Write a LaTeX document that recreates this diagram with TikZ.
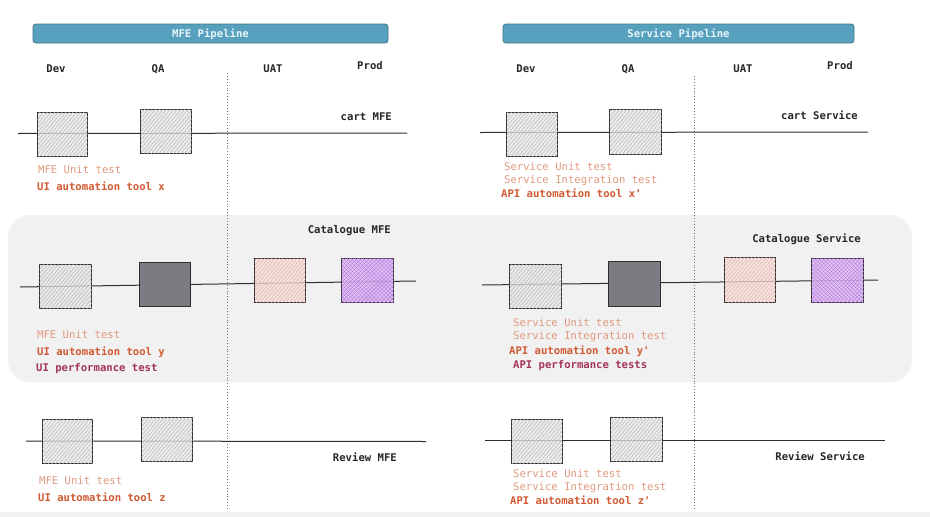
\documentclass[tikz,border=0pt]{standalone}
\usepackage{fontspec}
\setmonofont{DejaVu Sans Mono}
\usetikzlibrary{patterns.meta}
\definecolor{bannerfill}{HTML}{58A1BE}
\definecolor{bannerdraw}{HTML}{3E7488}
\definecolor{bannertext}{HTML}{E6F5FB}
\definecolor{salmon}{HTML}{E0997F}
\definecolor{orangered}{HTML}{D05A32}
\definecolor{crimson}{HTML}{A3345A}
\definecolor{bandfill}{HTML}{F1F1F1}
\definecolor{boxline}{HTML}{2E2E2E}
\definecolor{lightfill}{HTML}{E8E8E8}
\definecolor{lighthatch}{HTML}{B4B4B4}
\definecolor{darkfill}{HTML}{7A7C82}
\definecolor{pinkfill}{HTML}{F6DEDA}
\definecolor{pinkhatch}{HTML}{E6B0A8}
\definecolor{purplefill}{HTML}{DFBDF3}
\definecolor{purplehatch}{HTML}{B47BE0}
\tikzset{
  txt/.style={inner sep=0pt, anchor=base west, font=\ttfamily\fontsize{10.6}{12}\selectfont},
  lbl/.style={txt, anchor=base east, font=\ttfamily\bfseries\fontsize{10.6}{12}\selectfont, text=black!85},
  hdr/.style={inner sep=0pt, anchor=base, font=\ttfamily\bfseries\fontsize{10.6}{12}\selectfont, text=black!85},
  unittxt/.style={txt, text=salmon},
  autotxt/.style={txt, text=orangered, font=\ttfamily\bfseries\fontsize{10.6}{12}\selectfont},
  perftxt/.style={txt, text=crimson, font=\ttfamily\bfseries\fontsize{10.6}{12}\selectfont},
  banner/.style={draw=bannerdraw, line width=0.8pt, fill=bannerfill, rounded corners=3pt},
  bannertxt/.style={inner sep=0pt, text=bannertext, font=\ttfamily\bfseries\fontsize{10.6}{12}\selectfont},
  track/.style={draw=boxline, line width=1pt},
  sep/.style={draw=black!55, line width=0.9pt, dotted},
  envbox/.style={draw=boxline, line width=1.1pt, inner sep=0pt, anchor=north west},
  graybox/.style={envbox, fill=lightfill, fill opacity=0.75,
     postaction={pattern={Lines[angle=50,distance=2.8pt,line width=0.5pt]}, pattern color=lighthatch}},
  darkbox/.style={envbox, fill=darkfill},
  pinkbox/.style={envbox, fill=pinkfill, fill opacity=0.75,
     postaction={pattern={Lines[angle=50,distance=2.8pt,line width=0.5pt]}, pattern color=pinkhatch}},
  purplebox/.style={envbox, fill=purplefill, fill opacity=0.85,
     postaction={pattern={Lines[angle=45,distance=2.8pt,line width=0.45pt]}, pattern color=purplehatch},
     postaction={pattern={Lines[angle=-45,distance=2.8pt,line width=0.45pt]}, pattern color=purplehatch}},
}
\begin{document}
\begin{tikzpicture}[x=1pt,y=-1pt]
\useasboundingbox (0,0) rectangle (930,517);
\fill[white] (0,0) rectangle (930,517);
\fill[black!5] (0,512) rectangle (930,517);

% highlighted band
\fill[bandfill, rounded corners=22pt] (8,215) rectangle (912,382);

% banners
\draw[banner] (33,24) rectangle (388,43);
\node[bannertxt] (mfeTitle) at (210.5,34) {MFE Pipeline};
\draw[banner] (503,24) rectangle (854,43);
\node[bannertxt] (svcTitle) at (678.5,34) {Service Pipeline};

% stage headers
\node[hdr] (lDev) at (56,72) {Dev};
\node[hdr] (lQA) at (158,72) {QA};
\node[hdr] (lUAT) at (273,72) {UAT};
\node[hdr] (lProd) at (370,69.5) {Prod};
\node[hdr] (rDev) at (526,72) {Dev};
\node[hdr] (rQA) at (628,72) {QA};
\node[hdr] (rUAT) at (743,72) {UAT};
\node[hdr] (rProd) at (840,69.5) {Prod};

% dotted separators
\coordinate (lsepT) at (227.5,73);
\coordinate (lsepB) at (227.5,510);
\coordinate (rsepT) at (694,76);
\coordinate (rsepB) at (694,510);
\draw[sep] (lsepT) -- (lsepB);
\draw[sep] (rsepT) -- (rsepB);

% ---------- tracks ----------
\coordinate (t1lA) at (18,133.5);  \coordinate (t1lB) at (407,133);
\coordinate (t1rA) at (480,132.5); \coordinate (t1rB) at (868,132);
\coordinate (t2lA) at (20,287);    \coordinate (t2lB) at (416,281);
\coordinate (t2rA) at (482,285);   \coordinate (t2rB) at (878,280);
\coordinate (t3lA) at (26,441);    \coordinate (t3lB) at (426,441.5);
\coordinate (t3rA) at (485,440);   \coordinate (t3rB) at (885,440);
\draw[track] (t1lA) -- (t1lB);
\draw[track] (t1rA) -- (t1rB);
\draw[track] (t2lA) -- (t2lB);
\draw[track] (t2rA) -- (t2rB);
\draw[track] (t3lA) -- (t3lB);
\draw[track] (t3rA) -- (t3rB);

% ---------- row 1: cart ----------
\node[graybox, minimum width=50pt, minimum height=44pt] (c1ldev) at (37,112) {};
\node[graybox, minimum width=51pt, minimum height=44pt] (c1lqa) at (140,109) {};
\node[lbl] (cartMFE) at (392,120) {cart MFE};
\node[unittxt] (c1lu) at (38,173) {MFE Unit test};
\node[autotxt] (c1la) at (37,190) {UI automation tool x};

\node[graybox, minimum width=51pt, minimum height=44pt] (c1rdev) at (506,112) {};
\node[graybox, minimum width=52pt, minimum height=45pt] (c1rqa) at (609,109) {};
\node[lbl] (cartSvc) at (858,119) {cart Service};
\node[unittxt] (c1ru) at (504,170) {Service Unit test};
\node[unittxt] (c1ri) at (504,183) {Service Integration test};
\node[autotxt] (c1ra) at (501,197) {API automation tool x'};

% ---------- row 2: catalogue ----------
\node[graybox, minimum width=52pt, minimum height=44pt] (c2ldev) at (39,264) {};
\node[darkbox, minimum width=51pt, minimum height=44pt] (c2lqa) at (139,262) {};
\node[pinkbox, minimum width=51pt, minimum height=44pt] (c2luat) at (254,258) {};
\node[purplebox, minimum width=52pt, minimum height=44pt] (c2lprod) at (341,258) {};
\node[lbl] (catMFE) at (391,233) {Catalogue MFE};
\node[unittxt] (c2lu) at (37,338) {MFE Unit test};
\node[autotxt] (c2la) at (37,355) {UI automation tool y};
\node[perftxt] (c2lp) at (36,371) {UI performance test};

\node[graybox, minimum width=52pt, minimum height=44pt] (c2rdev) at (509,264) {};
\node[darkbox, minimum width=52pt, minimum height=45pt] (c2rqa) at (608,261) {};
\node[pinkbox, minimum width=51pt, minimum height=45pt] (c2ruat) at (724,257) {};
\node[purplebox, minimum width=52pt, minimum height=44pt] (c2rprod) at (811,258) {};
\node[lbl] (catSvc) at (861,242) {Catalogue Service};
\node[unittxt] (c2ru) at (513,326) {Service Unit test};
\node[unittxt] (c2ri) at (513,339) {Service Integration test};
\node[autotxt] (c2ra) at (509,354) {API automation tool y'};
\node[perftxt] (c2rp) at (513,368) {API performance tests};

% ---------- row 3: review ----------
\node[graybox, minimum width=50pt, minimum height=44pt] (c3ldev) at (42,419) {};
\node[graybox, minimum width=51pt, minimum height=44pt] (c3lqa) at (141,417) {};
\node[lbl] (revMFE) at (397,461) {Review MFE};
\node[unittxt] (c3lu) at (39,484) {MFE Unit test};
\node[autotxt] (c3la) at (38,501) {UI automation tool z};

\node[graybox, minimum width=51pt, minimum height=44pt] (c3rdev) at (511,419) {};
\node[graybox, minimum width=52pt, minimum height=44pt] (c3rqa) at (610,417) {};
\node[lbl] (revSvc) at (865,460) {Review Service};
\node[unittxt] (c3ru) at (513,477) {Service Unit test};
\node[unittxt] (c3ri) at (513,490) {Service Integration test};
\node[autotxt] (c3ra) at (510,504) {API automation tool z'};
\end{tikzpicture}
\end{document}
